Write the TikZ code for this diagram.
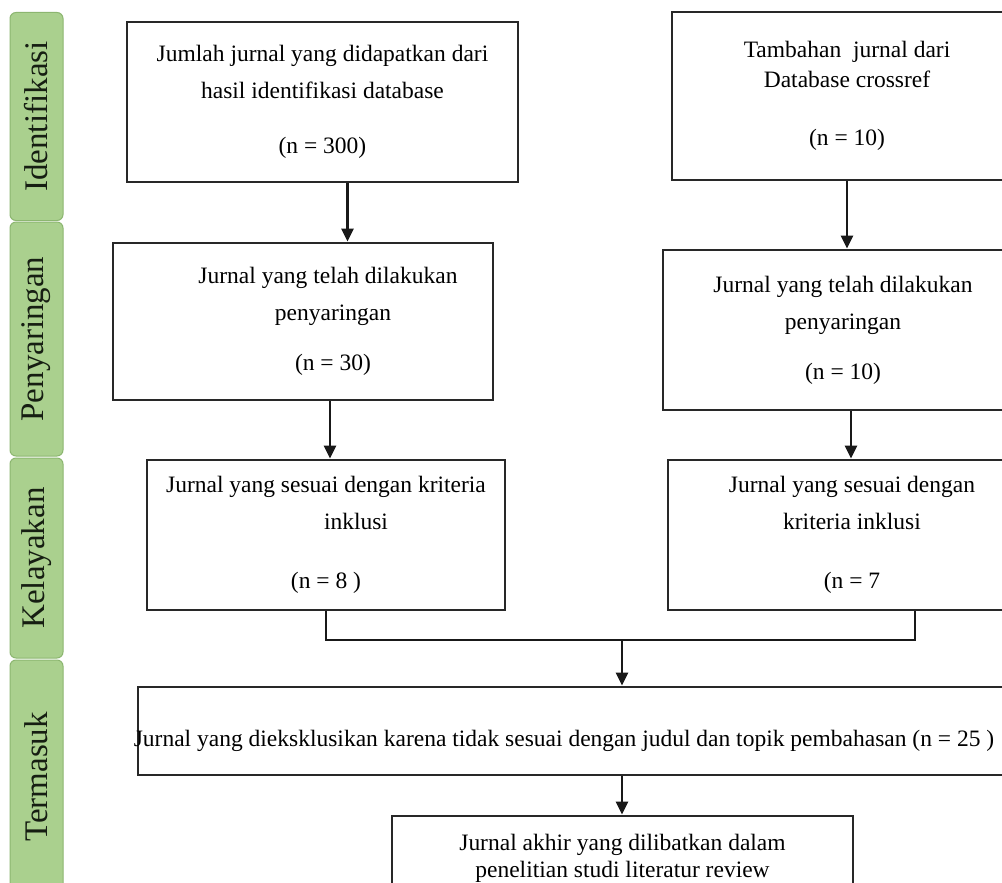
\documentclass[tikz,border=0pt]{standalone}
\usepackage{fontspec}
\setmainfont{Liberation Serif}
\usetikzlibrary{arrows.meta}
\definecolor{barfill}{RGB}{170,208,142}
\definecolor{barline}{RGB}{140,182,112}
\definecolor{bartext}{RGB}{22,30,18}
\definecolor{boxline}{RGB}{40,40,40}
\tikzset{
  bar/.style={draw=barline, line width=1pt, fill=barfill, rounded corners=6pt, rotate=90,
    minimum height=53pt, inner sep=0pt, text=bartext, font=\fontsize{33}{33}\selectfont},
  box/.style={draw=boxline, line width=2.8pt, align=center, inner sep=0pt,
    font=\fontsize{23.5}{37}\selectfont},
  arr/.style={line width=2.8pt, draw=black!90, -{Triangle[length=13pt,width=12pt]}},
  link/.style={line width=2.8pt, draw=black!90}
}
\begin{document}
\begin{tikzpicture}[x=1pt, y=-1pt]
      \useasboundingbox (0,0) rectangle (1002,883);
      \clip (0,0) rectangle (1002,883);
      \fill[white] (0,0) rectangle (1002,883);
      \node[bar, minimum width=208pt] (idf) at (36.5,116.5) {Identifikasi};
      \node[bar, minimum width=234pt] (pny) at (36.5,339) {Penyaringan};
      \node[bar, minimum width=200pt] (kly) at (36.5,558) {Kelayakan};
      \node[bar, minimum width=234pt] (trm) at (36.5,777) {Termasuk};
      \node[box, minimum width=391pt, minimum height=160pt] (jumlah) at (322.5,102)
        {Jumlah jurnal yang didapatkan dari\\hasil identifikasi database\\[18pt](n = 300)};
      \node[box, minimum width=350pt, minimum height=168pt, font=\fontsize{23.5}{30}\selectfont] (tambah) at (847,96)
        {Tambahan\ \ jurnal dari\\Database crossref\\[28pt](n = 10)};
      \node[box, minimum width=380pt, minimum height=157pt] (saring1) at (303,321.5)
        {\hspace*{50pt}Jurnal yang telah dilakukan\\\hspace*{60pt}penyaringan\\[13pt]\hspace*{60pt}(n = 30)};
      \node[box, minimum width=360pt, minimum height=160pt] (saring2) at (843,330)
        {Jurnal yang telah dilakukan\\penyaringan\\[13pt](n = 10)};
      \node[box, minimum width=358pt, minimum height=150pt] (sesuai1) at (326,535)
        {Jurnal yang sesuai dengan kriteria\\\hspace*{60pt}inklusi\\[22pt](n = 8 )};
      \node[box, minimum width=368pt, minimum height=150pt] (sesuai2) at (852,535)
        {Jurnal yang sesuai dengan\\kriteria inklusi\\[22pt](n = 7};
      \node[box, minimum width=874pt, minimum height=88pt, text height=36pt, text depth=5pt] (eksklusi) at (575,731)
        {\hspace*{-22pt}Jurnal yang dieksklusikan karena tidak sesuai dengan judul dan topik pembahasan (n = 25 )};
      \node[box, minimum width=461pt, minimum height=84pt, font=\fontsize{23.5}{27}\selectfont] (akhir) at (622.5,858)
        {Jurnal akhir yang dilibatkan dalam\\penelitian studi literatur review};
      \coordinate (gabung) at (622,640);
      \begin{scope}[arr]
        \draw ([xshift=25pt]jumlah.south) to ([xshift=25pt]jumlah.south |- saring1.north);
        \draw (tambah.south) to (tambah.south |- saring2.north);
        \draw ([xshift=27pt]saring1.south) to ([xshift=27pt]saring1.south |- sesuai1.north);
        \draw ([xshift=8pt]saring2.south) to ([xshift=8pt]saring2.south |- sesuai2.north);
        \draw (gabung) to (gabung |- eksklusi.north);
        \draw (eksklusi.south -| gabung) to (gabung |- akhir.north);
      \end{scope}
      \draw[link] (sesuai1.south) |- (gabung) -| ([xshift=63pt]sesuai2.south);
    \end{tikzpicture}
\end{document}
